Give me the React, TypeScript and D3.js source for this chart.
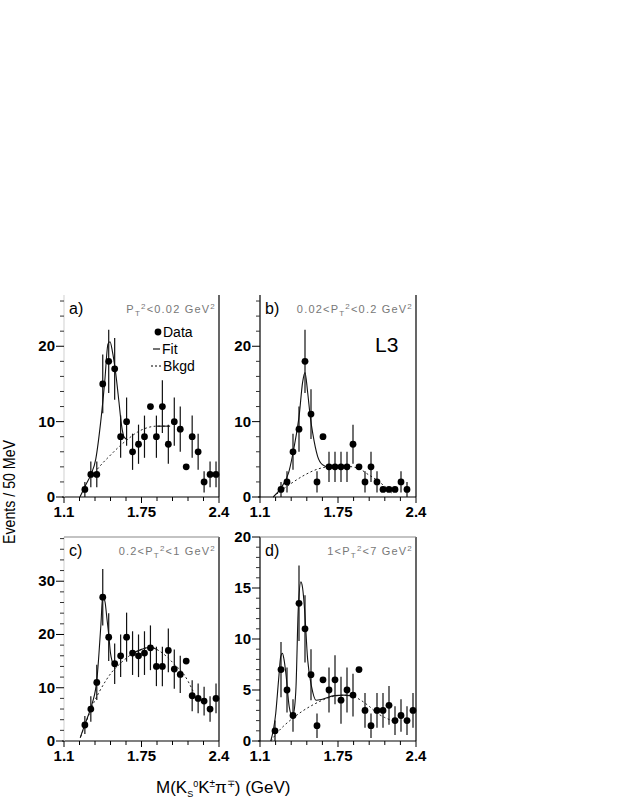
import React from "react";
import * as d3 from "d3";

const W = 623;
const H = 806;

// x axis (GeV)
const xMajor = [1.1, 1.75, 2.4];
const xMinor = [1.23, 1.36, 1.49, 1.62, 1.88, 2.01, 2.14, 2.27];

// a) Pt^2 < 0.02
const massA = [1.275, 1.325, 1.375, 1.425, 1.475, 1.525, 1.575, 1.625, 1.675, 1.725, 1.775, 1.825, 1.875, 1.925, 1.975, 2.025, 2.075, 2.125, 2.175, 2.225, 2.275, 2.325, 2.375];
const countsA = [1, 3, 3, 15, 18, 17, 8, 10, 6, 7, 8, 12, 8, 12, 7, 10, 9, 4, 8, 6, 2, 3, 3];
const errA = [1, 1.7, 1.7, 3.9, 4.2, 4.1, 2.8, 3.2, 2.4, 2.6, 2.8, 0, 2.8, 3.5, 2.6, 3.2, 3, 0, 2.8, 2.4, 1.4, 1.7, 1.7];
const fitA = [
  [[1.234, 0], [1.282, 1.6], [1.324, 2.9], [1.366, 5], [1.408, 10], [1.441, 15.2], [1.469, 20.3], [1.486, 20.6], [1.505, 19.4], [1.533, 16.5], [1.561, 12.6], [1.581, 9.7], [1.603, 8.0], [1.631, 7.6]],
  [[1.88, 9.4], [1.99, 9.4]],
];
const bkgA = [[1.38, 3.7], [1.43, 4.6], [1.48, 5.4], [1.55, 6.5], [1.63, 7.6], [1.715, 8.6], [1.8, 9.2], [1.88, 9.4], [1.99, 9.4]];

// b) 0.02 < Pt^2 < 0.2
const massB = [1.275, 1.325, 1.375, 1.425, 1.475, 1.525, 1.575, 1.625, 1.675, 1.725, 1.775, 1.825, 1.875, 1.925, 1.975, 2.025, 2.075, 2.125, 2.175, 2.225, 2.275, 2.325];
const countsB = [1, 2, 6, 9, 18, 11, 2, 8, 4, 4, 4, 4, 7, 4, 2, 4, 2, 1, 1, 1, 2, 1];
const errB = [1, 1.4, 2.4, 3, 4.2, 3.3, 1.4, 0, 2, 2, 2, 2, 2.6, 0, 1.4, 2, 1.4, 0, 0, 0, 1.4, 1];
const fitB = [
  [[1.21, 0], [1.27, 1.1], [1.34, 3.3], [1.385, 6.7], [1.427, 10.9], [1.455, 15.2], [1.475, 16.5], [1.497, 13.9], [1.52, 10.5], [1.54, 8.4], [1.58, 5.4], [1.62, 4.3], [1.665, 4.0], [1.75, 4.1], [1.85, 4.1]],
];
const bkgB = [[1.21, 0], [1.28, 0.9], [1.36, 1.8], [1.47, 2.9], [1.58, 3.7], [1.665, 4.0], [1.8, 4.1], [1.92, 3.8], [2.0, 3.0], [2.06, 2.4], [2.14, 1.4], [2.2, 0.5]];

// c) 0.2 < Pt^2 < 1
const massC = [1.275, 1.325, 1.375, 1.425, 1.475, 1.525, 1.575, 1.625, 1.675, 1.725, 1.775, 1.825, 1.875, 1.925, 1.975, 2.025, 2.075, 2.125, 2.175, 2.225, 2.275, 2.325, 2.375];
const countsC = [3, 6, 11, 27, 19.5, 14.5, 16, 19.5, 16.5, 16, 16.5, 17.5, 14, 14, 17, 13.5, 12.5, 15, 8.5, 8, 7.5, 6, 8];
const errC = [1.7, 2.4, 3.3, 5.3, 4.5, 3.8, 4, 4.6, 4.1, 4, 4.1, 4.2, 3.7, 3.7, 4.1, 3.7, 3.5, 0, 2.9, 2.8, 2.7, 2.4, 2.8];
const fitC = [
  [[1.236, 0.6], [1.267, 2.6], [1.3, 4.6], [1.336, 7], [1.378, 12], [1.395, 17], [1.41, 22], [1.425, 27.3], [1.445, 26], [1.46, 23], [1.475, 20], [1.49, 16.5], [1.503, 15], [1.52, 14], [1.54, 14.1]],
  [[1.68, 16.5], [1.75, 17.2], [1.825, 17.6], [1.88, 17.2]],
];
const bkgC = [[1.24, 0.8], [1.3, 4.4], [1.35, 7.2], [1.4, 9.4], [1.45, 11.3], [1.5, 12.9], [1.56, 14.3], [1.62, 15.5], [1.68, 16.5], [1.75, 17.2], [1.825, 17.6], [1.9, 16.9], [1.964, 15.8], [2.03, 14.3], [2.103, 12.6], [2.186, 9.2]];

// d) 1 < Pt^2 < 7
const massD = [1.225, 1.275, 1.325, 1.375, 1.425, 1.475, 1.525, 1.575, 1.625, 1.675, 1.725, 1.775, 1.825, 1.875, 1.925, 1.975, 2.025, 2.075, 2.125, 2.175, 2.225, 2.275, 2.325, 2.375];
const countsD = [1, 7, 5, 2.5, 13.5, 11, 6.5, 1.5, 6, 5, 6, 4, 5, 4.5, 7, 3, 1.5, 3, 3, 3.5, 2, 2.5, 2, 3];
const errD = [1, 2.7, 2.2, 1.6, 3.7, 3.3, 2.5, 1.2, 0, 2.2, 2.4, 2.3, 2.2, 2.1, 0, 1.7, 1.2, 1.7, 1.7, 1.9, 1.4, 1.6, 1.4, 1.7];
const fitD = [
  [[1.19, 0], [1.231, 2.7], [1.255, 6.0], [1.273, 8.3], [1.287, 8.6], [1.3, 8.0], [1.315, 6.7], [1.343, 3.4], [1.371, 2.4], [1.39, 3.5], [1.4, 5.3], [1.419, 13], [1.441, 15.6], [1.455, 15.0], [1.469, 13.3], [1.497, 8], [1.53, 5.3], [1.567, 4.0], [1.62, 4.1], [1.72, 4.45], [1.8, 4.5], [1.85, 4.45]],
];
const bkgD = [[1.19, 0], [1.25, 0.9], [1.3, 1.5], [1.37, 2.2], [1.45, 2.9], [1.55, 3.6], [1.64, 4.1], [1.72, 4.4], [1.8, 4.5], [1.87, 4.4], [1.94, 4.0], [2.01, 3.4], [2.08, 2.7], [2.14, 2.3], [2.2, 2.0]];

const yMajorAB = [0, 10, 20];
const yMajorC = [0, 10, 20, 30];
const yMajorD = [0, 5, 10, 15, 20];

const FONT = "'Liberation Sans', Arial, Helvetica, sans-serif";

const panels = [
  { id: "a", l: 64, r: 219, t: 295, b: 497, yMax: 26.8, major: yMajorAB, minorStep: 2, pre: "", post: "<0.02 GeV", mass: massA, counts: countsA, err: errA, fit: fitA, bkg: bkgA, borders: { left: "#d8d8d8", right: "#000", top: null } },
  { id: "b", l: 260, r: 416, t: 295, b: 497, yMax: 26.8, major: yMajorAB, minorStep: 2, pre: "0.02<", post: "<0.2 GeV", mass: massB, counts: countsB, err: errB, fit: fitB, bkg: bkgB, borders: { left: "#000", right: "#000", top: null } },
  { id: "c", l: 64, r: 219, t: 537, b: 741, yMax: 38.3, major: yMajorC, minorStep: 2, pre: "0.2<", post: "<1 GeV", mass: massC, counts: countsC, err: errC, fit: fitC, bkg: bkgC, borders: { left: "#d8d8d8", right: "#000", top: "#888" } },
  { id: "d", l: 260, r: 416, t: 537, b: 741, yMax: 20, major: yMajorD, minorStep: 1, pre: "1<", post: "<7 GeV", mass: massD, counts: countsD, err: errD, fit: fitD, bkg: bkgD, borders: { left: "#000", right: "#000", top: "#888" } },
];

function Panel({ p }: { p: any }) {
  const x = d3.scaleLinear().domain([1.1, 2.4]).range([p.l, p.r]);
  const y = d3.scaleLinear().domain([0, p.yMax]).range([p.b, p.t]);
  const line = d3
    .line<number[]>()
    .x((d) => x(d[0]))
    .y((d) => y(d[1]))
    .curve(d3.curveMonotoneX);
  const minor = d3.range(0, p.yMax, p.minorStep).filter((v: number) => !p.major.includes(v));
  const labelY = p.t + 19;
  return (
    <g>
      {/* frame */}
      <line x1={p.l - 2} x2={p.r} y1={p.b} y2={p.b} stroke="#000" strokeWidth={1.2} />
      <line x1={p.l} x2={p.l} y1={p.t} y2={p.b} stroke={p.borders.left} strokeWidth={1.2} />
      <line x1={p.r} x2={p.r} y1={p.t} y2={p.b} stroke={p.borders.right} strokeWidth={1.2} />
      {p.borders.top && <line x1={p.l} x2={p.r} y1={p.t} y2={p.t} stroke={p.borders.top} strokeWidth={1.2} />}

      {/* x ticks */}
      {xMajor.map((v) => (
        <g key={"xm" + v}>
          <line x1={x(v)} x2={x(v)} y1={p.b} y2={p.b + 6} stroke="#000" />
          <text x={x(v)} y={p.b + 20} textAnchor="middle" fontSize={15} fontWeight="bold" fontFamily={FONT}>
            {String(v)}
          </text>
        </g>
      ))}
      {xMinor.map((v) => (
        <line key={"xn" + v} x1={x(v)} x2={x(v)} y1={p.b} y2={p.b + 4} stroke="#000" />
      ))}

      {/* y ticks */}
      {p.major.map((v: number) => (
        <g key={"ym" + v}>
          <line x1={p.l - 8} x2={p.l} y1={y(v)} y2={y(v)} stroke="#000" />
          <text x={p.l - 9} y={y(v) + 5} textAnchor="end" fontSize={15} fontWeight="bold" fontFamily={FONT}>
            {v}
          </text>
        </g>
      ))}
      {minor.map((v: number) => (
        <line key={"yn" + v} x1={p.l - 4} x2={p.l} y1={y(v)} y2={y(v)} stroke="#333" />
      ))}

      {/* curves */}
      <path d={line(p.bkg) || ""} fill="none" stroke="#222" strokeWidth={1} strokeDasharray="2,2.5" />
      {p.fit.map((seg: number[][], i: number) => (
        <path key={"f" + i} d={line(seg) || ""} fill="none" stroke="#111" strokeWidth={1.1} />
      ))}

      {/* data */}
      {p.mass.map((m: number, i: number) => (
        <g key={"d" + i}>
          {p.err[i] > 0 && (
            <line
              x1={x(m)}
              x2={x(m)}
              y1={y(Math.max(0, p.counts[i] - p.err[i]))}
              y2={y(p.counts[i] + p.err[i])}
              stroke="#111"
              strokeWidth={1.2}
            />
          )}
          <circle cx={x(m)} cy={y(p.counts[i])} r={3.4} fill="#000" />
        </g>
      ))}

      {/* labels */}
      <text x={p.l + 5} y={labelY} fontSize={16} fontFamily={FONT}>
        {p.id + ")"}
      </text>
      <text x={p.r - 3} y={labelY - 1} textAnchor="end" fontSize={11} letterSpacing={1.2} fill="#777" fontFamily={FONT}>
        {p.pre}P
        <tspan dy={3} fontSize={8}>T</tspan>
        <tspan dy={-7} fontSize={8}>2</tspan>
        <tspan dy={4}>{p.post}</tspan>
        <tspan dy={-4} fontSize={8}>2</tspan>
      </text>
    </g>
  );
}

export default function App() {
  return (
    <svg
      width={W}
      height={H}
      viewBox={`0 0 ${W} ${H}`}
      style={{ position: "absolute", left: 0, top: 0, background: "#fff" }}
    >
      <rect width={W} height={H} fill="#fff" />
      {panels.map((p) => (
        <Panel key={p.id} p={p} />
      ))}

      {/* legend in panel a */}
      <g fontFamily={FONT} fontSize={14}>
        <circle cx={158} cy={332} r={3.4} fill="#000" />
        <text x={163} y={337}>Data</text>
        <line x1={153} x2={160} y1={349} y2={349} stroke="#000" strokeWidth={1.1} />
        <text x={162} y={354}>Fit</text>
        <line x1={151} x2={161} y1={366} y2={366} stroke="#000" strokeDasharray="2,2" />
        <text x={163} y={371}>Bkgd</text>
      </g>

      {/* experiment tag */}
      <text x={375} y={352} fontSize={21} fontFamily={FONT}>
        L3
      </text>

      {/* axis titles */}
      <text
        transform={`translate(15, 492) rotate(-90)`}
        textAnchor="middle"
        fontSize={16}
        fontFamily={FONT}
        textLength={104}
        lengthAdjust="spacingAndGlyphs"
      >
        Events / 50 MeV
      </text>
      <text x={156} y={793} fontSize={17} fontFamily={FONT}>
        M(K
        <tspan dy={4} fontSize={9}>S</tspan>
        <tspan dy={-10} fontSize={9}>0</tspan>
        <tspan dy={6}>K</tspan>
        <tspan dy={-6} fontSize={10}>±</tspan>
        <tspan dy={6}>π</tspan>
        <tspan dy={-6} fontSize={10}>∓</tspan>
        <tspan dy={6}>{")   (GeV)"}</tspan>
      </text>
    </svg>
  );
}
